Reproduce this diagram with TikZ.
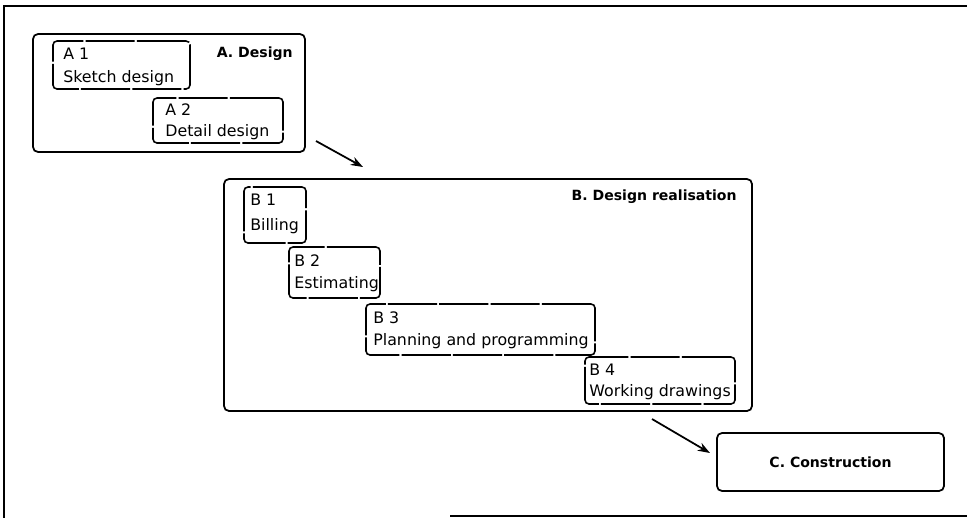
\documentclass[tikz,border=0pt]{standalone}
\usepackage{fontspec}
\setmainfont{DejaVu Sans}
\usetikzlibrary{fit,arrows.meta}
\tikzset{
  frame/.style={line width=1.2pt},
  groupbox/.style={draw, line width=1pt, rounded corners=0.1cm, inner sep=0pt},
  subbox/.style={draw, line width=0.9pt, rounded corners=0.08cm, inner sep=0pt,
                 dash pattern=on 28pt off 1.2pt},
  lbl/.style={font=\fontsize{9}{10}\selectfont, inner sep=0pt, anchor=west},
  ttl/.style={font=\fontsize{8}{10}\selectfont\bfseries, inner sep=0pt},
  flow/.style={line width=1pt, -{Stealth[length=7pt,width=5pt]}}
}
\begin{document}
\begin{tikzpicture}[x=0.02cm,y=-0.02cm]
\useasboundingbox (0,0) rectangle (967,518);

% outer frame
\draw[frame] (967,6) -- (4,6) -- (4,518);
\draw[frame] (450,516) -- (967,516);

% A. Design
\node[groupbox, fit={(33,34)(305,152)}] (ga) {};
\node[ttl, anchor=east] (gat) at (293,54) {A. Design};
\node[subbox, fit={(53,41)(190,89)}] (a1) {};
\node[lbl] (a1n) at (63,54) {A 1};
\node[lbl] (a1t) at (63,78) {Sketch design};
\node[subbox, fit={(153,98)(283,143)}] (a2) {};
\node[lbl] (a2n) at (165,110) {A 2};
\node[lbl] (a2t) at (165,132) {Detail design};

% B. Design realisation
\node[groupbox, fit={(224,179)(752,411)}] (gb) {};
\node[ttl, anchor=east] (gbt) at (737,197) {B. Design realisation};
\node[subbox, fit={(244,187)(306,243)}] (b1) {};
\node[lbl] (b1n) at (250,200) {B 1};
\node[lbl] (b1t) at (250,226) {Billing};
\node[subbox, fit={(289,247)(380,298)}] (b2) {};
\node[lbl] (b2n) at (294,261) {B 2};
\node[lbl] (b2t) at (294,284) {Estimating};
\node[subbox, fit={(366,304)(595,355)}] (b3) {};
\node[lbl] (b3n) at (373,318) {B 3};
\node[lbl] (b3t) at (373,341) {Planning and programming};
\node[subbox, fit={(585,357)(735,404)}] (b4) {};
\node[lbl] (b4n) at (589,370) {B 4};
\node[lbl] (b4t) at (589,392) {Working drawings};

% C. Construction
\node[groupbox, fit={(717,433)(944,491)}] (gc) {};
\node[ttl] (gct) at (gc.center) {C. Construction};

% transitions between the stages
\coordinate (ab1) at (316,141);
\coordinate (ab2) at (363,167);
\coordinate (bc1) at (652,419);
\coordinate (bc2) at (710,453);
\draw[flow] (ab1) -- (ab2);
\draw[flow] (bc1) -- (bc2);
\end{tikzpicture}
\end{document}
